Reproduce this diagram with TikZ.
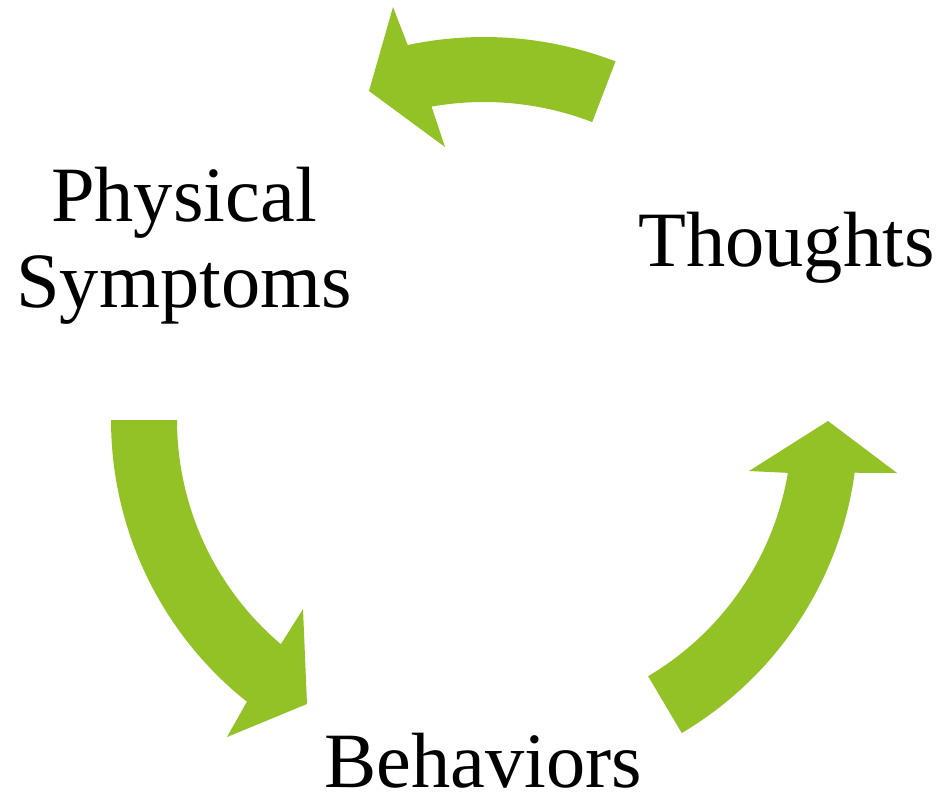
\documentclass[tikz,border=0pt]{standalone}
\usepackage{fontspec}
\setmainfont{Liberation Serif}
\definecolor{cyclegreen}{RGB}{147,194,38}
\begin{document}
\begin{tikzpicture}[x=0.02cm,y=-0.02cm,
  arrowfill/.style={fill=cyclegreen},
  lbl/.style={font=\fontsize{44.6}{48.8}\selectfont, inner sep=0pt, text=black}]
\useasboundingbox (0,0) rectangle (945,795);

% top arrow (Thoughts -> Physical Symptoms)
\fill[arrowfill] ({484+367*cos(-69)},{404+367*sin(-69)})
  -- plot[domain=-69:-102,samples=40] ({484+367*cos(\x)},{404+367*sin(\x)})
  -- (393,7) -- (369,91) -- (445,147)
  -- plot[domain=-100:-69,samples=40] ({484+302*cos(\x)},{404+302*sin(\x)})
  -- cycle;

% left arrow (Physical Symptoms -> Behaviors)
\fill[arrowfill] ({471+360*cos(180)},{420+360*sin(180)})
  -- plot[domain=180:128.5,samples=40] ({471+360*cos(\x)},{420+360*sin(\x)})
  -- (227,737) -- (307,704) -- (303,609)
  -- plot[domain=130.3:180,samples=40] ({471+294*cos(\x)},{420+294*sin(\x)})
  -- cycle;

% right arrow (Behaviors -> Thoughts)
\fill[arrowfill] ({499+359*cos(59.4)},{424+359*sin(59.4)})
  -- plot[domain=59.4:7.8,samples=40] ({499+359*cos(\x)},{424+359*sin(\x)})
  -- (897,473) -- (828,421) -- (749,471)
  -- plot[domain=9.6:59.4,samples=40] ({499+293*cos(\x)},{424+293*sin(\x)})
  -- cycle;

\node[lbl, anchor=base] (thoughts) at (786.5,266) {Thoughts};
\node[lbl, anchor=base, text depth=0pt] (behaviors) at (483,787) {Behaviors};
\node[lbl, anchor=base] (physical) at (184,307)
  {\begin{tabular}[b]{@{}c@{}}Physical\\Symptoms\end{tabular}};
\end{tikzpicture}
\end{document}
